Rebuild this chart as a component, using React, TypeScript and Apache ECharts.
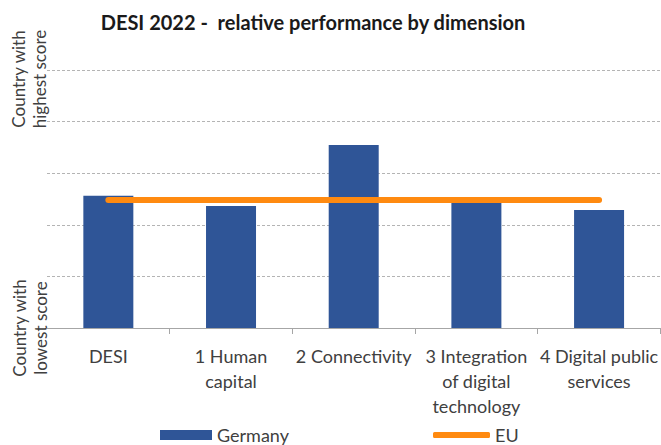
import React, { useEffect, useRef } from "react";
import * as echarts from "echarts";

const categories = [
  "DESI",
  "1 Human\ncapital",
  "2 Connectivity",
  "3 Integration\nof digital\ntechnology",
  "4 Digital public\nservices",
];
const germanyValues = [51.3, 47.3, 70.9, 50.2, 45.7];
const euValues = [49.6, 49.6, 49.6, 49.6, 49.6];
const titleText = "DESI 2022 -  relative performance by dimension";
const topAxisLabel = "Country with\nhighest score";
const bottomAxisLabel = "Country with\nlowest score";

const FONT = "Lato, 'Open Sans', sans-serif";

export default function App() {
  const ref = useRef<HTMLDivElement>(null);
  useEffect(() => {
    document.body.style.margin = "0";
    if (!ref.current) return;
    const chart = echarts.init(ref.current, undefined, { renderer: "svg" });
    chart.setOption({
      animation: false,
      backgroundColor: "#ffffff",
      textStyle: { fontFamily: FONT },
      grid: { left: 47, right: -1, top: 70, bottom: 117, containLabel: false },
      graphic: [
        {
          type: "text",
          x: 313,
          y: 12,
          style: {
            text: titleText,
            font: `bold 20px ${FONT}`,
            fill: "#1a1a1a",
            textAlign: "center",
            textVerticalAlign: "top",
          },
        },
        {
          type: "text",
          x: 29,
          y: 79,
          rotation: Math.PI / 2,
          style: {
            text: topAxisLabel,
            font: `17px ${FONT}`,
            lineHeight: 21,
            fill: "#404040",
            textAlign: "center",
            textVerticalAlign: "middle",
          },
        },
        {
          type: "text",
          x: 30,
          y: 328,
          rotation: Math.PI / 2,
          style: {
            text: bottomAxisLabel,
            font: `17px ${FONT}`,
            lineHeight: 21,
            fill: "#404040",
            textAlign: "center",
            textVerticalAlign: "middle",
          },
        },
      ],
      legend: [
        {
          data: [{ name: "Germany", icon: "rect" }],
          left: 160,
          top: 426,
          padding: 0,
          itemWidth: 52,
          itemHeight: 10,
          textStyle: { fontSize: 18, lineHeight: 18, color: "#404040", fontFamily: FONT },
        },
        {
          data: [{ name: "EU", icon: "roundRect" }],
          left: 433,
          top: 426,
          padding: 0,
          itemWidth: 57,
          itemHeight: 6,
          textStyle: { fontSize: 18, lineHeight: 18, color: "#404040", fontFamily: FONT },
        },
      ],
      xAxis: {
        type: "category",
        data: categories,
        boundaryGap: true,
        axisLine: { lineStyle: { color: "#a6a6a6", width: 1 } },
        axisTick: {
          show: true,
          length: 6,
          lineStyle: { color: "#a6a6a6" },
          interval: (index: number) => index !== 0,
        },
        axisLabel: {
          interval: 0,
          color: "#404040",
          fontSize: 18,
          fontFamily: FONT,
          lineHeight: 25,
          margin: 15,
        },
      },
      yAxis: {
        type: "value",
        min: 0,
        max: 100,
        interval: 20,
        axisLine: { show: false },
        axisTick: { show: false },
        axisLabel: { show: false },
        splitLine: {
          lineStyle: { color: "#b4b4b4", type: [3, 2], width: 1 },
        },
      },
      series: [
        {
          name: "Germany",
          type: "bar",
          data: germanyValues,
          barWidth: 50,
          itemStyle: { color: "#2F5597" },
          z: 2,
        },
        {
          name: "EU",
          type: "line",
          data: euValues,
          symbol: "none",
          lineStyle: { color: "#FF8A10", width: 6, cap: "round" },
          itemStyle: { color: "#FF8A10" },
          z: 3,
        },
      ],
    });
    return () => chart.dispose();
  }, []);
  return <div ref={ref} style={{ width: 661, height: 445 }} />;
}
